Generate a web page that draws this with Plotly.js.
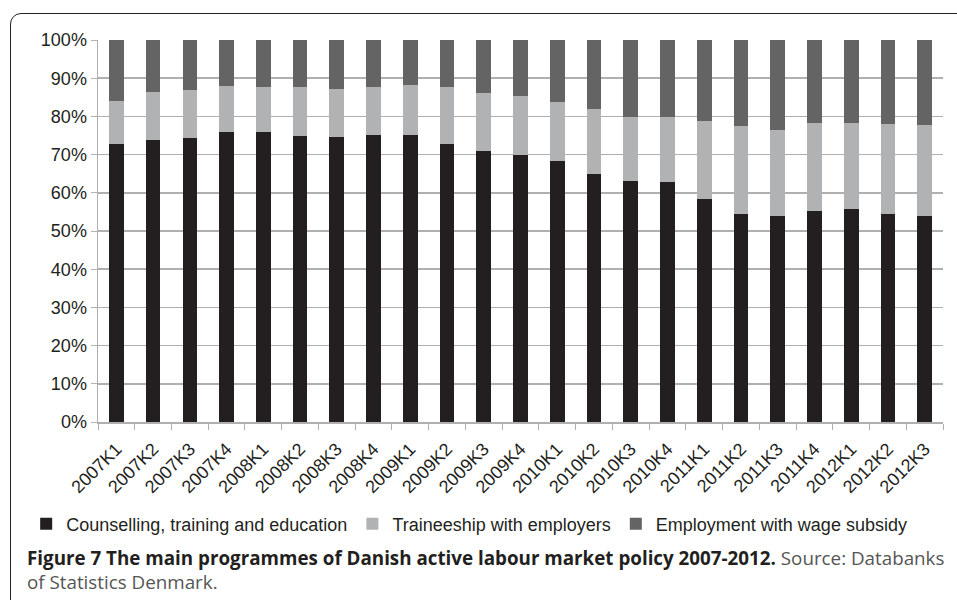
<!DOCTYPE html>
<html>
<head>
<meta charset="utf-8">
<script src="https://cdn.plot.ly/plotly-3.0.1.min.js"></script>
<style>
  html, body { margin:0; padding:0; width:957px; height:600px; overflow:hidden; background:#fff; }
  #frame { position:absolute; left:10px; top:13px; width:1100px; height:1100px; border:1.5px solid #222; border-radius:11px; pointer-events:none; z-index:2; }
  #chart { position:absolute; left:0; top:0; width:957px; height:600px; }
</style>
</head>
<body>
<div id="chart"></div>
<div id="frame"></div>
<script>
const categories = ["2007K1","2007K2","2007K3","2007K4","2008K1","2008K2","2008K3","2008K4","2009K1","2009K2","2009K3","2009K4","2010K1","2010K2","2010K3","2010K4","2011K1","2011K2","2011K3","2011K4","2012K1","2012K2","2012K3"];
// shares in percent
const counselling = [72.8,73.8,74.4,76.0,76.0,74.9,74.5,75.1,75.1,72.8,70.9,69.8,68.3,64.9,63.2,62.9,58.5,54.5,53.8,55.2,55.7,54.5,53.9];
const traineeship = [11.3,12.5,12.5,12.0,11.8,12.9,12.6,12.5,13.0,15.0,15.2,15.5,15.6,17.0,16.6,17.0,20.2,23.1,22.6,23.0,22.5,23.5,23.9];
const wageSubsidy = [15.9,13.7,13.1,12.0,12.2,12.2,12.9,12.4,11.9,12.2,13.9,14.7,16.1,18.1,20.2,20.1,21.3,22.4,23.6,21.8,21.8,22.0,22.2];
const seriesNames = ["Counselling, training and education","Traineeship with employers","Employment with wage subsidy"];
const seriesColors = ["#231f20","#b1b2b4","#646464"];
const yTickVals = [0,10,20,30,40,50,60,70,80,90,100];
const yTickText = ["0%","10%","20%","30%","40%","50%","60%","70%","80%","90%","100%"];

const seriesValues = [counselling, traineeship, wageSubsidy];
const traces = seriesValues.map((vals, i) => ({
  type: "bar",
  x: categories,
  y: vals,
  name: seriesNames[i],
  marker: { color: seriesColors[i], line: { width: 0 } },
  hoverinfo: "x+y+name"
}));

const font = "Liberation Sans, Arial, sans-serif";
const layout = {
  width: 957, height: 600,
  margin: { l: 98, r: 14, t: 40, b: 178 },
  barmode: "stack",
  bargap: 0.6,
  paper_bgcolor: "#ffffff",
  plot_bgcolor: "#ffffff",
  showlegend: true,
  legend: {
    orientation: "h",
    x: -0.085, xanchor: "left",
    y: -0.267, yanchor: "middle",
    font: { family: font, size: 18, color: "#231f20" },
    itemwidth: 30,
    traceorder: "normal"
  },
  xaxis: {
    type: "category",
    tickangle: -45,
    tickfont: { family: font, size: 18, color: "#231f20" },
    ticks: "outside",
    tickson: "boundaries",
    ticklen: 6,
    tickcolor: "#b0b0b0",
    ticklabelstandoff: 8,
    showline: true,
    linecolor: "#b0b0b0",
    linewidth: 1.5,
    showgrid: false,
    automargin: false
  },
  yaxis: {
    range: [0, 100],
    tickvals: yTickVals,
    ticktext: yTickText,
    tickfont: { family: font, size: 18, color: "#231f20" },
    ticks: "outside",
    ticklen: 6,
    tickcolor: "#b0b0b0",
    showline: true,
    linecolor: "#b0b0b0",
    linewidth: 1.5,
    showgrid: true,
    gridcolor: "#b0b0b0",
    gridwidth: 1.5,
    zeroline: false,
    automargin: false
  },
  annotations: [
    {
      xref: "paper", yref: "paper",
      x: -0.086, y: -0.318,
      xanchor: "left", yanchor: "top",
      align: "left",
      showarrow: false,
      font: { family: "Open Sans, sans-serif", size: 18.8, color: "#231f20" },
      text: "<b>Figure 7 The main programmes of Danish active labour market policy 2007-2012.</b> <span style=\"color:#555555\">Source: Databanks</span><br><span style=\"color:#555555\">of Statistics Denmark.</span>"
    }
  ]
};

Plotly.newPlot("chart", traces, layout, { displayModeBar: false, staticPlot: true });
</script>
</body>
</html>
